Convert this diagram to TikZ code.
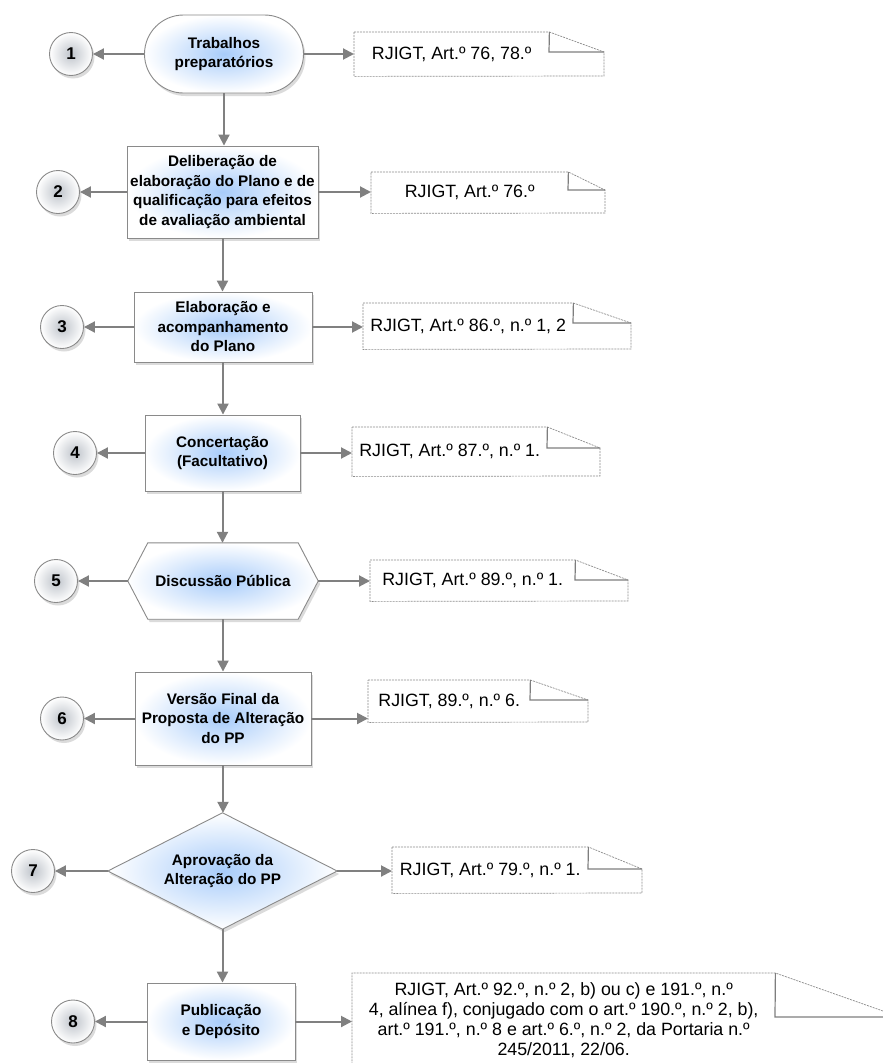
\documentclass[tikz,border=0pt]{standalone}
\usepackage{fontspec}
\setmainfont{Liberation Sans}
\usetikzlibrary{arrows.meta,shadows,shapes.misc,backgrounds}
\definecolor{linegray}{HTML}{808080}
\definecolor{boxborder}{HTML}{8A8A8A}
\definecolor{blueinner}{HTML}{A8CCFA}
\definecolor{circleinner}{HTML}{BFC4CB}
\definecolor{notegray}{HTML}{8C8C8C}
\tikzset{
  flow/.style={draw=linegray, line width=2pt, -{Triangle[length=11pt,width=11pt]}},
  softshadow/.style={drop shadow={opacity=0.28, shadow xshift=2pt, shadow yshift=-3pt}},
  procfill/.style={draw=boxborder, line width=0.9pt, inner color=blueinner, outer color=white, softshadow},
  proctext/.style={font=\fontsize{15.3}{19.5}\selectfont\bfseries, align=center, text=black},
  procbox/.style={rectangle, procfill, proctext, inner sep=0pt},
  stepcircle/.style={circle, draw=boxborder, line width=0.9pt, minimum size=43pt, inner sep=0pt,
    inner color=circleinner, outer color=white, softshadow, font=\fontsize{17}{19}\selectfont\bfseries},
  notetext/.style={rectangle, inner sep=0pt, font=\fontsize{17.8}{20}\selectfont, align=center},
  notedash/.style={draw=notegray, line width=0.7pt, dash pattern=on 2pt off 1pt},
  notefold/.style={draw=notegray!90!black, line width=1.2pt},
}
\newcommand\notebox[8]{%
  \node[notetext, minimum width={#6-#2}, minimum height={#5-#3}, anchor=north west] (#1) at (#2,#3) {#8};
  \draw[notedash] (#1.north west) -- (#1.north east) -- (#4,#7) -- (#4,#5) -- (#1.south west) -- cycle;
  \draw[notefold] (#1.north east) -- (#6,#7) -- (#4,#7);
}
\begin{document}
\begin{tikzpicture}[x=1pt,y=-1pt]
\useasboundingbox (0,0) rectangle (883,1063);
\clip (0,0) rectangle (883,1063);

% process shapes
\node[rounded rectangle, procfill, proctext, minimum width=159pt, minimum height=78pt, inner sep=0pt] (s1) at (224,54) {Trabalhos\\preparatórios};
\node[procbox, minimum width=191pt, minimum height=92pt] (b2) at (222.5,192) {Deliberação de\\elaboração do Plano e de\\qualificação para efeitos\\de avaliação ambiental};
\node[procbox, minimum width=178pt, minimum height=70pt] (b3) at (223,327) {Elaboração e\\acompanhamento\\do Plano};
\node[procbox, minimum width=155pt, minimum height=76pt] (b4) at (222.5,453) {Concertação\\(Facultativo)};
\node[rectangle, proctext, minimum width=190pt, minimum height=76pt, inner sep=0pt] (h5) at (223,581) {Discussão Pública};
\node[procbox, minimum width=176pt, minimum height=93pt] (b6) at (223,718.5) {Versão Final da\\Proposta de Alteração\\do PP};
\node[rectangle, proctext, minimum width=229pt, minimum height=116pt, inner sep=0pt] (d7) at (222.5,871) {Aprovação da\\Alteração do PP};
\node[procbox, minimum width=148pt, minimum height=77pt] (b8) at (221,1021.5) {Publicação\\e Depósito};

\begin{scope}[on background layer]
  \fill[white] (0,0) rectangle (883,1063);
  \path[procfill] (h5.west) -- ([xshift=20pt]h5.north west) -- ([xshift=-20pt]h5.north east) -- (h5.east)
     -- ([xshift=-20pt]h5.south east) -- ([xshift=20pt]h5.south west) -- cycle;
  \path[procfill] (d7.west) -- (d7.north) -- (d7.east) -- (d7.south) -- cycle;
\end{scope}

% step circles
\node[stepcircle] (c1) at (71,54) {1};
\node[stepcircle] (c2) at (58,192) {2};
\node[stepcircle] (c3) at (62,327) {3};
\node[stepcircle] (c4) at (75,453) {4};
\node[stepcircle] (c5) at (56,581) {5};
\node[stepcircle] (c6) at (62,718.5) {6};
\node[stepcircle] (c7) at (33,871) {7};
\node[stepcircle] (c8) at (73,1021.5) {8};

% notes
\notebox{n1}{354}{32}{604}{76}{549}{52}{RJIGT, Art.º 76, 78.º}
\notebox{n2}{371}{172}{605}{213}{568}{190}{RJIGT, Art.º 76.º}
\notebox{n3}{363}{303}{631}{349}{573}{323}{RJIGT, Art.º 86.º, n.º 1, 2}
\notebox{n4}{352}{427}{600}{476}{547}{448}{RJIGT, Art.º 87.º, n.º 1.}
\notebox{n5}{370}{560}{628}{601}{575}{580}{RJIGT, Art.º 89.º, n.º 1.}
\notebox{n6}{368}{680}{588}{722}{530}{700}{RJIGT, 89.º, n.º 6.}
\notebox{n7}{392}{847}{642}{893}{588}{869}{RJIGT, Art.º 79.º, n.º 1.}
\node[notetext, minimum width=423pt, minimum height=94pt, anchor=north west] (n8) at (352,973) {RJIGT, Art.º 92.º, n.º 2, b) ou c) e 191.º, n.º\\4, alínea f), conjugado com o art.º 190.º, n.º 2, b),\\art.º 191.º, n.º 8 e art.º 6.º, n.º 2, da Portaria n.º\\245/2011, 22/06.};
\draw[notedash] (n8.south west) -- (n8.north west) -- (n8.north east) -- (900,1017) -- (900,1080);
\draw[notefold] (n8.north east) -- (775,1017) -- (900,1017);

% vertical flow
\draw[flow] (s1.south) -- (s1.south |- b2.north);
\draw[flow] (b2.south) -- (b2.south |- b3.north);
\draw[flow] (b3.south) -- (b3.south |- b4.north);
\draw[flow] (b4.south) -- (b4.south |- h5.north);
\draw[flow] (h5.south) -- (h5.south |- b6.north);
\draw[flow] (b6.south) -- (b6.south |- d7.north);
\draw[flow] (d7.south) -- (d7.south |- b8.north);

% to circles
\draw[flow] (s1.west) -- (c1.east);
\draw[flow] (b2.west) -- (c2.east);
\draw[flow] (b3.west) -- (c3.east);
\draw[flow] (b4.west) -- (c4.east);
\draw[flow] (h5.west) -- (c5.east);
\draw[flow] (b6.west) -- (c6.east);
\draw[flow] (d7.west) -- (c7.east);
\draw[flow] (b8.west) -- (c8.east);

% to notes
\draw[flow] (s1.east) -- (s1.east -| n1.west);
\draw[flow] (b2.east) -- (b2.east -| n2.west);
\draw[flow] (b3.east) -- (b3.east -| n3.west);
\draw[flow] (b4.east) -- (b4.east -| n4.west);
\draw[flow] (h5.east) -- (h5.east -| n5.west);
\draw[flow] (b6.east) -- (b6.east -| n6.west);
\draw[flow] (d7.east) -- (d7.east -| n7.west);
\draw[flow] (b8.east) -- (b8.east -| n8.west);
\end{tikzpicture}
\end{document}
